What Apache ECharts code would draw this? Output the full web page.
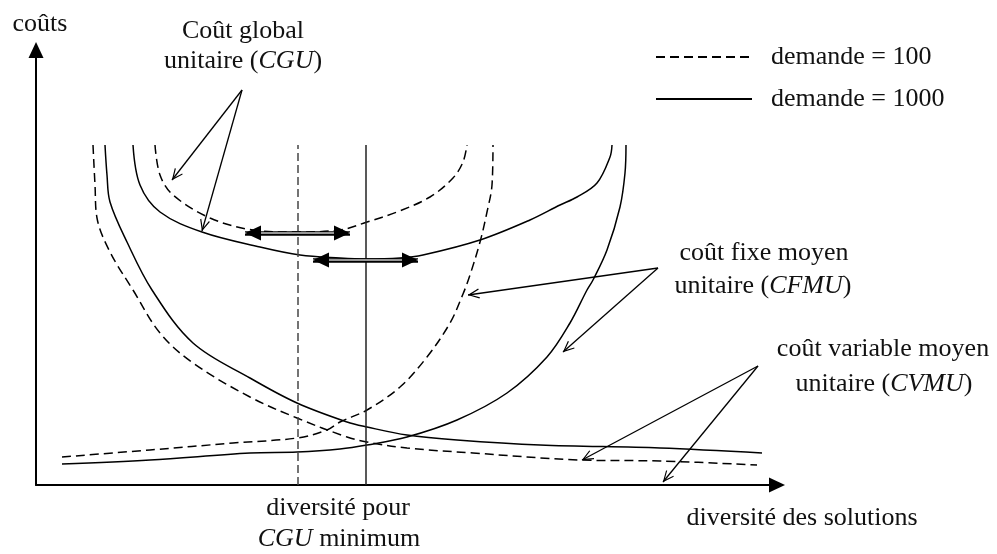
<!DOCTYPE html>
<html>
<head>
<meta charset="utf-8">
<script src="https://cdn.jsdelivr.net/npm/echarts@6/dist/echarts.min.js"></script>
<style>
  html, body { margin: 0; padding: 0; background: #fff; }
  #chart { width: 997px; height: 554px; }
</style>
</head>
<body>
<div id="chart"></div>
<script>
// curves, [diversité, coût] in axis units
var cvmu100 = [[57,340],[59,300],[61,267],[74,233],[97,195],[124,152],[157,122],[214,88],[261,67],[311,48],[331,43],[371,37],[437,32],[544,25],[624,24],[721,20]];
var cvmu1000 = [[69,340],[71,310],[74,283],[91,243],[116,195],[157,142],[214,107],[261,82],[311,63],[331,58],[371,50],[421,45],[504,40],[624,37],[726,32]];
var cgu1000 = [[97,340],[104,300],[124,273],[166,253],[224,238],[264,230],[304,227],[330,226],[364,227],[387,230],[444,245],[494,265],[524,280],[541,288],[561,302],[574,328],[576,340]];
var cgu100 = [[119,340],[124,310],[137,290],[174,267],[217,255],[257,253],[304,255],[331,263],[361,273],[394,288],[417,307],[427,323],[431,340]];
var cfmu100 = [[26,28],[114,35],[197,42],[261,47],[291,55],[304,63],[331,75],[364,98],[391,128],[414,162],[427,191],[434,210],[444,243],[451,273],[456,300],[457,340]];
var cfmu1000 = [[26,21],[114,25],[214,32],[261,33],[304,36],[331,40],[371,48],[421,65],[471,92],[511,128],[534,162],[551,195],[557,205],[571,235],[584,278],[589,312],[590,340]];

// diversité pour CGU minimum
var minDiv100 = 262;
var minDiv1000 = 330;
var minLineTop = 340;

// double arrows around the minima: [from, to]
var shift100 = [[209,252],[314,252]];
var shift1000 = [[277,225],[382,225]];

// label pointers: [from, to]
var pointers = [
  [[206,395],[136,305]], [[206,395],[166,254]],
  [[622,217],[432,190]], [[622,217],[527,133]],
  [[722,119],[546,25]], [[722,119],[627,3]]
];

var legendNames = ['demande = 100', 'demande = 1000'];

var FONT = 'Liberation Serif';
var chart = echarts.init(document.getElementById('chart'));

function curve(name, pts, dashed) {
  return {
    name: name, type: 'line', data: pts, symbol: 'none', smooth: 0.35, silent: true,
    itemStyle: { color: '#000' },
    lineStyle: { color: '#000', width: 1.5, type: dashed ? [9, 5] : 'solid' }
  };
}

function txt(x, y, s) {
  return {
    type: 'text', x: x, y: y, silent: true,
    style: {
      text: s, fill: '#111', font: '26px "' + FONT + '"',
      fontFamily: FONT, fontSize: 26,
      textAlign: 'center', align: 'center',
      textVerticalAlign: 'middle', verticalAlign: 'middle',
      rich: { i: { fontStyle: 'italic', fontFamily: FONT, fontSize: 26, fill: '#111' } }
    }
  };
}

// chevron tip sits at the symbol centre (dummy point pads the box)
var openHead = 'path://M5,0 L5.01,0 Z M5,11 L10,22 L9,22.6 L5,13.8 L1,22.6 L0,22 Z';
var solidHead = 'path://M7,0 L7.01,0 Z M7,15 L14,30 L0,30 Z';

var option = {
  animation: false,
  backgroundColor: '#fff',
  grid: { left: 36, right: 220, top: 50, bottom: 69, containLabel: false },
  xAxis: {
    type: 'value', min: 0, max: 741,
    axisLine: { show: true, onZero: false, symbol: ['none', 'triangle'], symbolSize: [15, 16], lineStyle: { color: '#000', width: 2 } },
    axisTick: { show: false }, axisLabel: { show: false }, splitLine: { show: false }
  },
  yAxis: {
    type: 'value', min: 0, max: 435,
    axisLine: { show: true, onZero: false, symbol: ['none', 'triangle'], symbolSize: [15, 16], lineStyle: { color: '#000', width: 2 } },
    axisTick: { show: false }, axisLabel: { show: false }, splitLine: { show: false }
  },
  legend: {
    orient: 'vertical', left: 650, top: 37, itemWidth: 96, itemHeight: 14, itemGap: 12,
    selectedMode: false, data: legendNames,
    itemStyle: { opacity: 0, color: 'transparent', borderWidth: 0 },
    textStyle: { fontFamily: FONT, fontSize: 26, color: '#111', lineHeight: 30, padding: [0, 0, 0, 14] }
  },
  graphic: [
    txt(40, 24, 'coûts'),
    txt(243, 31, 'Coût global'),
    txt(243, 61, 'unitaire ({i|CGU})'),
    txt(764, 253, 'coût fixe moyen'),
    txt(763, 286, 'unitaire ({i|CFMU})'),
    txt(883, 349, 'coût variable moyen'),
    txt(884, 384, 'unitaire ({i|CVMU})'),
    txt(802, 518, 'diversité des solutions'),
    txt(338, 508, 'diversité pour'),
    txt(339, 539, '{i|CGU} minimum')
  ],
  series: [
    curve(legendNames[0], cvmu100, true),
    curve(legendNames[1], cvmu1000, false),
    curve(legendNames[0], cgu100, true),
    curve(legendNames[1], cgu1000, false),
    curve(legendNames[0], cfmu100, true),
    curve(legendNames[1], cfmu1000, false),
    {
      name: legendNames[0], type: 'line', symbol: 'none', silent: true,
      data: [[minDiv100, 0], [minDiv100, minLineTop]],
      itemStyle: { color: '#000' },
      lineStyle: { color: '#444', width: 1.5, type: [8, 4] }
    },
    {
      name: legendNames[1], type: 'line', symbol: 'none', silent: true,
      data: [[minDiv1000, 0], [minDiv1000, minLineTop]],
      itemStyle: { color: '#000' },
      lineStyle: { color: '#222', width: 1.5 }
    },
    {
      type: 'lines', coordinateSystem: 'cartesian2d', silent: true, z: 5,
      data: [{ coords: shift100 }, { coords: shift1000 }],
      symbol: 'none', lineStyle: { color: '#000', width: 4.5, opacity: 1 }
    },
    {
      type: 'lines', coordinateSystem: 'cartesian2d', silent: true, z: 6,
      data: [{ coords: shift100 }, { coords: shift1000 }],
      symbol: 'none', lineStyle: { color: '#c8c8c8', width: 1.5, opacity: 1 }
    },
    {
      type: 'lines', coordinateSystem: 'cartesian2d', silent: true, z: 7,
      data: [{ coords: shift100 }, { coords: shift1000 }],
      symbol: [solidHead, solidHead], symbolSize: [[15, 32], [15, 32]],
      lineStyle: { color: '#000', width: 0, opacity: 1 }
    },
    {
      type: 'lines', coordinateSystem: 'cartesian2d', silent: true, z: 5,
      data: pointers.map(function (p) { return { coords: p }; }),
      symbol: ['none', openHead], symbolSize: [[10, 23], [10, 23]],
      lineStyle: { color: '#000', width: 1.3, opacity: 1 }
    }
  ]
};
chart.setOption(option);
</script>
</body>
</html>
